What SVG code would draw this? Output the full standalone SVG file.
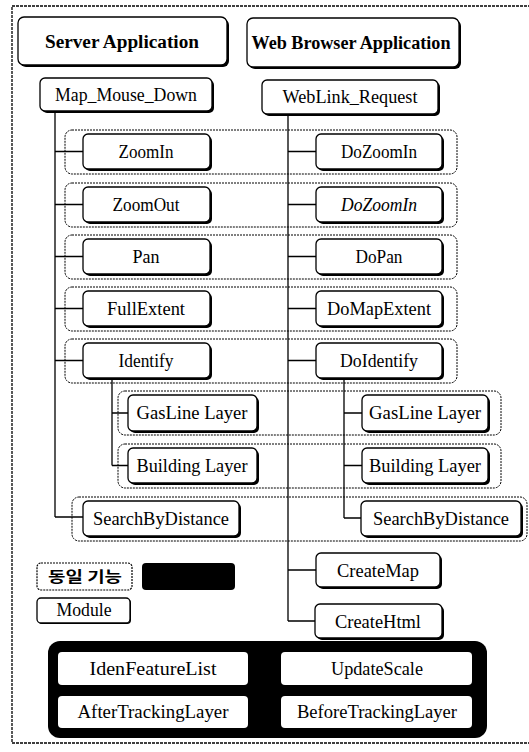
<svg xmlns="http://www.w3.org/2000/svg" width="529" height="752" viewBox="0 0 529 752">
<style>
.sh{fill:#000}
.bx{fill:#fff;stroke:#000;stroke-width:1.3}
.grp{fill:none;stroke:#000;stroke-width:1;stroke-dasharray:2 1}
.t{font-family:"Liberation Serif","Times New Roman",serif;font-size:18px;text-anchor:middle;fill:#000}
.b{font-weight:bold}
.c{fill:none;stroke:#000;stroke-width:1.3}
.wb{fill:#fff;stroke:none}
</style>
<rect x="0" y="0" width="529" height="752" fill="#fff"/>
<rect x="12" y="6" width="535" height="737" fill="none" stroke="#000" stroke-width="1.3" stroke-dasharray="3 1"/>

<g id="groups">
<rect class="grp" x="65" y="130" width="392" height="44" rx="7"/>
<rect class="grp" x="65" y="183" width="392" height="44" rx="7"/>
<rect class="grp" x="65" y="235" width="392" height="44" rx="7"/>
<rect class="grp" x="65" y="287" width="392" height="44" rx="7"/>
<rect class="grp" x="65" y="339" width="392" height="44" rx="7"/>
<rect class="grp" x="118" y="391" width="383" height="44" rx="7"/>
<rect class="grp" x="118" y="444" width="383" height="44" rx="7"/>
<rect class="grp" x="72" y="497" width="455" height="44" rx="7"/>
</g>

<g id="connectors">
<path class="c" d="M55,111V517M55,151.5H83M55,204.5H83M55,256.5H83M55,308.5H83M55,360.5H83M55,517H83"/>
<path class="c" d="M112,378V465.5M112,413H128M112,465.5H128"/>
<path class="c" d="M288,114V621M288,151.5H316M288,204.5H316M288,256.5H316M288,308.5H316M288,360.5H316M288,570H316M288,621H315"/>
<path class="c" d="M344,378V518M344,413H362M344,465.5H362M344,518H361"/>
</g>

<g id="server-app"><rect class="sh" x="20" y="19" width="209" height="48" rx="6"/><rect class="bx" x="18" y="17" width="209" height="48" rx="6"/><text class="t b" x="122" y="48" font-size="19" textLength="154" lengthAdjust="spacingAndGlyphs">Server Application</text></g>
<g id="web-app"><rect class="sh" x="249" y="20" width="212" height="49" rx="6"/><rect class="bx" x="247" y="18" width="212" height="49" rx="6"/><text class="t b" x="351" y="49" textLength="199" lengthAdjust="spacingAndGlyphs">Web Browser Application</text></g>
<g id="map-mouse-down"><rect class="sh" x="42" y="80" width="172" height="33" rx="5"/><rect class="bx" x="40" y="78" width="172" height="33" rx="5"/><text class="t" x="126" y="101" textLength="142" lengthAdjust="spacingAndGlyphs">Map_Mouse_Down</text></g>
<g id="weblink-request"><rect class="sh" x="264" y="82" width="176" height="34" rx="5"/><rect class="bx" x="262" y="80" width="176" height="34" rx="5"/><text class="t" x="350" y="103" textLength="135" lengthAdjust="spacingAndGlyphs">WebLink_Request</text></g>

<g id="zoomin"><rect class="sh" x="85" y="136" width="127" height="35" rx="5"/><rect class="bx" x="83" y="134" width="127" height="35" rx="5"/><text class="t" x="146" y="158" textLength="55" lengthAdjust="spacingAndGlyphs">ZoomIn</text></g>
<g id="dozoomin"><rect class="sh" x="318" y="136" width="126" height="35" rx="5"/><rect class="bx" x="316" y="134" width="126" height="35" rx="5"/><text class="t" x="379" y="158" textLength="76" lengthAdjust="spacingAndGlyphs">DoZoomIn</text></g>
<g id="zoomout"><rect class="sh" x="85" y="189" width="127" height="35" rx="5"/><rect class="bx" x="83" y="187" width="127" height="35" rx="5"/><text class="t" x="146" y="211" textLength="67" lengthAdjust="spacingAndGlyphs">ZoomOut</text></g>
<g id="dozoomin-2"><rect class="sh" x="318" y="189" width="126" height="35" rx="5"/><rect class="bx" x="316" y="187" width="126" height="35" rx="5"/><text class="t" x="379" y="211" font-style="italic" textLength="76" lengthAdjust="spacingAndGlyphs">DoZoomIn</text></g>
<g id="pan"><rect class="sh" x="85" y="241" width="127" height="35" rx="5"/><rect class="bx" x="83" y="239" width="127" height="35" rx="5"/><text class="t" x="146" y="263" textLength="27" lengthAdjust="spacingAndGlyphs">Pan</text></g>
<g id="dopan"><rect class="sh" x="318" y="241" width="126" height="35" rx="5"/><rect class="bx" x="316" y="239" width="126" height="35" rx="5"/><text class="t" x="379" y="263" textLength="47" lengthAdjust="spacingAndGlyphs">DoPan</text></g>
<g id="fullextent"><rect class="sh" x="85" y="293" width="127" height="35" rx="5"/><rect class="bx" x="83" y="291" width="127" height="35" rx="5"/><text class="t" x="146" y="315" textLength="78" lengthAdjust="spacingAndGlyphs">FullExtent</text></g>
<g id="domapextent"><rect class="sh" x="318" y="293" width="126" height="35" rx="5"/><rect class="bx" x="316" y="291" width="126" height="35" rx="5"/><text class="t" x="379" y="315" textLength="104" lengthAdjust="spacingAndGlyphs">DoMapExtent</text></g>
<g id="identify"><rect class="sh" x="85" y="345" width="127" height="35" rx="5"/><rect class="bx" x="83" y="343" width="127" height="35" rx="5"/><text class="t" x="146" y="367" textLength="55" lengthAdjust="spacingAndGlyphs">Identify</text></g>
<g id="doidentify"><rect class="sh" x="318" y="345" width="126" height="35" rx="5"/><rect class="bx" x="316" y="343" width="126" height="35" rx="5"/><text class="t" x="379" y="367" textLength="78" lengthAdjust="spacingAndGlyphs">DoIdentify</text></g>

<g id="gasline-left"><rect class="sh" x="130" y="397" width="129" height="36" rx="5"/><rect class="bx" x="128" y="395" width="129" height="36" rx="5"/><text class="t" x="192" y="419" font-size="19" textLength="111" lengthAdjust="spacingAndGlyphs">GasLine Layer</text></g>
<g id="gasline-right"><rect class="sh" x="364" y="397" width="126" height="36" rx="5"/><rect class="bx" x="362" y="395" width="126" height="36" rx="5"/><text class="t" x="425" y="419" font-size="19" textLength="112" lengthAdjust="spacingAndGlyphs">GasLine Layer</text></g>
<g id="building-left"><rect class="sh" x="130" y="450" width="129" height="35" rx="5"/><rect class="bx" x="128" y="448" width="129" height="35" rx="5"/><text class="t" x="192" y="472" font-size="19" textLength="111" lengthAdjust="spacingAndGlyphs">Building Layer</text></g>
<g id="building-right"><rect class="sh" x="364" y="450" width="126" height="35" rx="5"/><rect class="bx" x="362" y="448" width="126" height="35" rx="5"/><text class="t" x="425" y="472" font-size="19" textLength="112" lengthAdjust="spacingAndGlyphs">Building Layer</text></g>
<g id="search-left"><rect class="sh" x="85" y="503" width="156" height="35" rx="5"/><rect class="bx" x="83" y="501" width="156" height="35" rx="5"/><text class="t" x="161" y="525" font-size="19" textLength="136" lengthAdjust="spacingAndGlyphs">SearchByDistance</text></g>
<g id="search-right"><rect class="sh" x="363" y="503" width="160" height="35" rx="5"/><rect class="bx" x="361" y="501" width="160" height="35" rx="5"/><text class="t" x="441" y="525" font-size="19" textLength="136" lengthAdjust="spacingAndGlyphs">SearchByDistance</text></g>
<g id="createmap"><rect class="sh" x="318" y="555" width="124" height="34" rx="5"/><rect class="bx" x="316" y="553" width="124" height="34" rx="5"/><text class="t" x="378" y="577" textLength="82" lengthAdjust="spacingAndGlyphs">CreateMap</text></g>
<g id="createhtml"><rect class="sh" x="317" y="606" width="127" height="34" rx="5"/><rect class="bx" x="315" y="604" width="127" height="34" rx="5"/><text class="t" x="378" y="628" textLength="86" lengthAdjust="spacingAndGlyphs">CreateHtml</text></g>

<g id="legend-same"><rect x="37" y="563" width="95" height="27" rx="4" fill="#fff" stroke="#000" stroke-width="1.2" stroke-dasharray="2 1"/><text x="85" y="582" font-family="'Noto Sans CJK KR',sans-serif" font-weight="bold" font-size="15" text-anchor="middle" textLength="74" lengthAdjust="spacingAndGlyphs">동일 기능</text></g>
<g id="legend-black"><rect x="142" y="563" width="93" height="27" rx="4" fill="#000"/></g>
<g id="legend-module"><rect class="sh" x="38" y="599" width="93" height="25" rx="4"/><rect class="bx" x="37" y="598" width="93" height="25" rx="4"/><text class="t" x="84" y="616" font-size="17" textLength="55" lengthAdjust="spacingAndGlyphs">Module</text></g>

<g id="common-modules">
<rect x="48" y="641" width="439" height="97" rx="12" fill="#000"/>
<rect class="wb" x="58" y="652" width="190" height="33" rx="4"/>
<text class="t" x="153" y="675" textLength="127" lengthAdjust="spacingAndGlyphs">IdenFeatureList</text>
<rect class="wb" x="281" y="652" width="191" height="33" rx="4"/>
<text class="t" x="377" y="675" textLength="92" lengthAdjust="spacingAndGlyphs">UpdateScale</text>
<rect class="wb" x="58" y="696" width="190" height="32" rx="4"/>
<text class="t" x="153" y="718" textLength="151" lengthAdjust="spacingAndGlyphs">AfterTrackingLayer</text>
<rect class="wb" x="281" y="696" width="191" height="32" rx="4"/>
<text class="t" x="377" y="718" textLength="160" lengthAdjust="spacingAndGlyphs">BeforeTrackingLayer</text>
</g>
</svg>
